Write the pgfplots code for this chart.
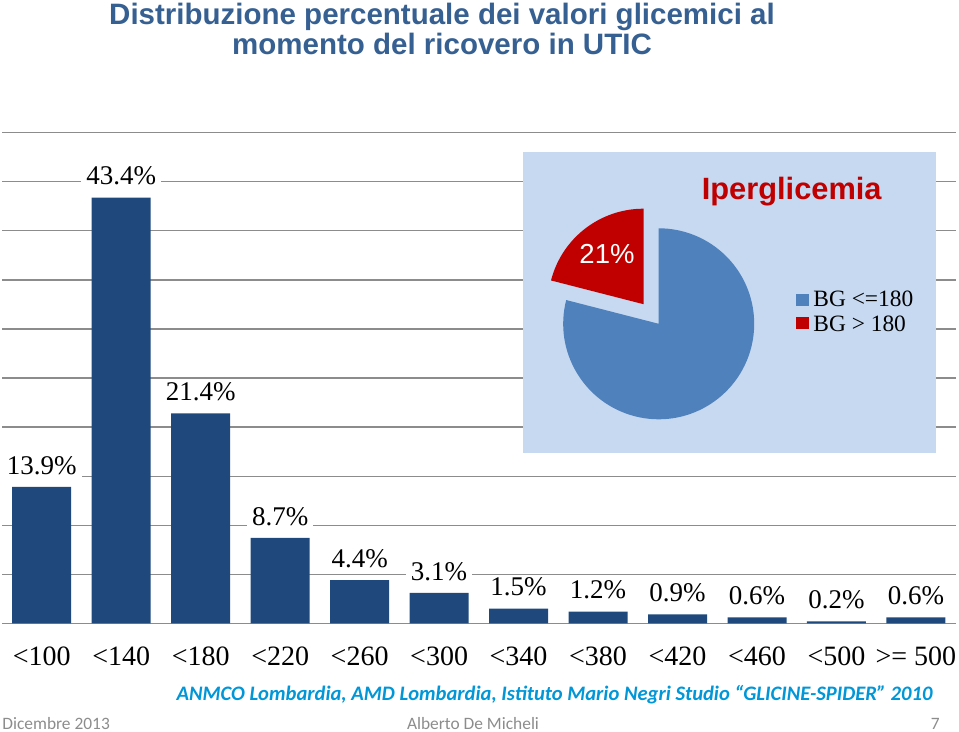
\documentclass[border=0pt]{standalone}
\usepackage{fontspec}
\setmainfont{Liberation Serif}
\newfontfamily\arialfont{Liberation Sans}
\newfontfamily\calibrifont{Carlito}
\usepackage{pgfplots}
\pgfplotsset{compat=1.18}

\definecolor{barblue}{RGB}{31,73,125}
\definecolor{gridgray}{RGB}{140,140,140}
\definecolor{titleblue}{RGB}{54,96,146}
\definecolor{boxblue}{RGB}{198,217,241}
\definecolor{pieblue}{RGB}{79,129,189}
\definecolor{piered}{RGB}{192,0,0}
\definecolor{footblue}{RGB}{0,150,215}
\definecolor{footgray}{RGB}{140,140,140}

% quota iperglicemia (BG > 180), in %
\pgfmathsetmacro\redpct{21}
\pgfmathsetmacro\pieend{90+3.6*\redpct}

% coordinate "pixel" della slide (origine in alto a sinistra)
\tikzset{px/.style={x=0.5pt, y=-0.5pt, shift={(-1pt,311.65pt)}}}

\begin{document}
\begin{tikzpicture}
% bounding box fisso = slide intera
\path[px, use as bounding box] (0,0) rectangle (959,732);

\begin{axis}[
    scale only axis,
    width=476.85pt, height=245.25pt,
    xmin=-0.5, xmax=11.5,
    ymin=0, ymax=50,
    xtick={0,...,11},
    xticklabels={{<100},{<140},{<180},{<220},{<260},{<300},{<340},{<380},{<420},{<460},{<500},{>= 500}},
    ytick={0,5,...,50},
    yticklabels={},
    ymajorgrids,
    major grid style={gridgray, line width=0.6pt},
    axis line style={draw=none},
    major tick length=0pt,
    /pgf/number format/assume math mode=true,
    xticklabel style={font=\fontsize{14}{16}\selectfont, yshift=-8.2pt},
    nodes near coords={\pgfmathprintnumber[fixed,fixed zerofill,precision=1]{\pgfplotspointmeta}\%},
    every node near coord/.append style={font=\fontsize{13.5}{15}\selectfont,
        fill=white, inner xsep=2.5pt, inner ysep=1pt, anchor=south, yshift=5pt},
    clip=false,
]
\addplot[ybar, bar width=29.5pt, fill=barblue, draw=none] coordinates {
    (0,13.9) (1,43.4) (2,21.4) (3,8.7) (4,4.4) (5,3.1)
    (6,1.5) (7,1.2) (8,0.9) (9,0.6) (10,0.2) (11,0.6)
};
\end{axis}

\begin{scope}[px]
% titolo
\node[font=\arialfont\bfseries\fontsize{14.75}{16}\selectfont, text=titleblue, anchor=base]
    at (442,25) {Distribuzione percentuale dei valori glicemici al};
\node[font=\arialfont\bfseries\fontsize{14.75}{16}\selectfont, text=titleblue, anchor=base]
    at (442,55) {momento del ricovero in UTIC};

% riquadro torta
\fill[boxblue] (523.3,151.7) rectangle (936,453.3);
\fill[pieblue] (658.7,323.8) -- ++(\pieend:47.75pt)
    arc[start angle=\pieend, end angle=450, radius=47.75pt] -- cycle;
\fill[piered, shift={(127.8:12.4pt)}] (658.7,323.8) -- ++(90:47.75pt)
    arc[start angle=90, end angle=\pieend, radius=47.75pt] -- cycle;
\node[font=\arialfont\fontsize{13.75}{15}\selectfont, text=white, anchor=base]
    at (607,264) {21\%};
\node[font=\arialfont\bfseries\fontsize{15.4}{17}\selectfont, text=piered, anchor=base]
    at (791.7,200) {Iperglicemia};

% legenda torta
\fill[pieblue] (796,294) rectangle (808.7,306);
\fill[piered] (796,317.3) rectangle (808.7,329.3);
\node[font=\fontsize{11.7}{13}\selectfont, anchor=base west, inner sep=0pt]
    at (813,306.7) {BG <=180};
\node[font=\fontsize{11.7}{13}\selectfont, anchor=base west, inner sep=0pt]
    at (813,331.7) {BG > 180};

% fonte
\node[font=\calibrifont\bfseries\itshape\fontsize{10.3}{12}\selectfont, text=footblue, anchor=base]
    at (554.5,701) {ANMCO Lombardia, AMD Lombardia, Istituto Mario Negri Studio “GLICINE-SPIDER” 2010};

% pie di pagina
\node[font=\calibrifont\fontsize{8.7}{10}\selectfont, text=footgray, anchor=base west, inner sep=0pt]
    at (2,730) {Dicembre 2013};
\node[font=\calibrifont\fontsize{8.7}{10}\selectfont, text=footgray, anchor=base, inner sep=0pt]
    at (473,730) {Alberto De Micheli};
\node[font=\calibrifont\fontsize{8.7}{10}\selectfont, text=footgray, anchor=base east, inner sep=0pt]
    at (940,730) {7};
\end{scope}
\end{tikzpicture}
\end{document}
